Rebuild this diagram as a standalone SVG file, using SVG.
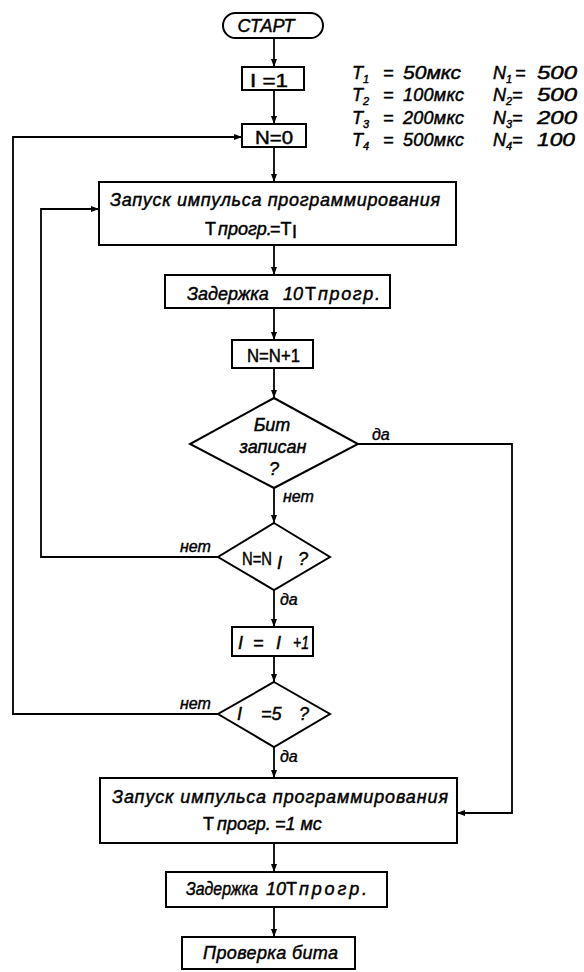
<svg xmlns="http://www.w3.org/2000/svg" width="584" height="972" viewBox="0 0 584 972">
<style>
.b{fill:#fff;stroke:#000;stroke-width:2}
.c{fill:none;stroke:#000;stroke-width:1.8}
.t{font-family:"Liberation Sans","DejaVu Sans",sans-serif;font-size:18px;fill:#000;stroke:#000;stroke-width:0.45}
.i{font-style:italic}
.u{font-style:normal}
.l{font-family:"Liberation Sans","DejaVu Sans",sans-serif;font-size:16px;font-style:italic;fill:#000;stroke:#000;stroke-width:0.4}
.s{font-size:11px}
</style>
<defs>
<marker id="a" markerUnits="userSpaceOnUse" markerWidth="9" markerHeight="7" refX="8" refY="3.5" orient="auto">
<path d="M0,0.5 L8,3.5 L0,6.5 z" fill="#000"/>
</marker>
</defs>
<rect width="584" height="972" fill="#fff"/>
<g id="connectors">
<path class="c" d="M274,38 V67" marker-end="url(#a)"/>
<path class="c" d="M274,90 V124" marker-end="url(#a)"/>
<path class="c" d="M274,147 V182" marker-end="url(#a)"/>
<path class="c" d="M274,245 V275" marker-end="url(#a)"/>
<path class="c" d="M274,308 V340" marker-end="url(#a)"/>
<path class="c" d="M274,368 V398" marker-end="url(#a)"/>
<path class="c" d="M274,488 V523" marker-end="url(#a)"/>
<path class="c" d="M274,590 V627" marker-end="url(#a)"/>
<path class="c" d="M274,656 V682" marker-end="url(#a)"/>
<path class="c" d="M274,747 V778" marker-end="url(#a)"/>
<path class="c" d="M274,843 V872" marker-end="url(#a)"/>
<path class="c" d="M274,907 V937" marker-end="url(#a)"/>
<path class="c" d="M358,444 H512 V813 H457" marker-end="url(#a)"/>
<path class="c" d="M218,557 H41 V209 H99" marker-end="url(#a)"/>
<path class="c" d="M218,714 H13 V137 H242" marker-end="url(#a)"/>
<text class="l" x="372" y="440">да</text>
<text class="l" x="283" y="502">нет</text>
<text class="l" x="180" y="552">нет</text>
<text class="l" x="280" y="605">да</text>
<text class="l" x="180" y="709">нет</text>
<text class="l" x="280" y="762">да</text>
</g>
<g id="params">
<text class="t i" y="79"><tspan x="352">T</tspan><tspan class="s" x="363" dy="4">1</tspan><tspan x="383" dy="-4">=</tspan><tspan x="403" textLength="58" lengthAdjust="spacingAndGlyphs">50мкс</tspan></text>
<text class="t i" y="101"><tspan x="352">T</tspan><tspan class="s" x="363" dy="4">2</tspan><tspan x="383" dy="-4">=</tspan><tspan x="403" textLength="61" lengthAdjust="spacing">100мкс</tspan></text>
<text class="t i" y="124"><tspan x="352">T</tspan><tspan class="s" x="363" dy="4">3</tspan><tspan x="383" dy="-4">=</tspan><tspan x="403" textLength="61" lengthAdjust="spacing">200мкс</tspan></text>
<text class="t i" y="146"><tspan x="352">T</tspan><tspan class="s" x="363" dy="4">4</tspan><tspan x="383" dy="-4">=</tspan><tspan x="403" textLength="61" lengthAdjust="spacing">500мкс</tspan></text>
<text class="t i" y="79"><tspan x="493">N</tspan><tspan class="s" x="506" dy="4">1</tspan><tspan x="515" dy="-4">=</tspan><tspan x="537" textLength="40" lengthAdjust="spacingAndGlyphs">500</tspan></text>
<text class="t i" y="101"><tspan x="493">N</tspan><tspan class="s" x="506" dy="4">2</tspan><tspan x="512" dy="-4">=</tspan><tspan x="537" textLength="40" lengthAdjust="spacingAndGlyphs">500</tspan></text>
<text class="t i" y="124"><tspan x="493">N</tspan><tspan class="s" x="506" dy="4">3</tspan><tspan x="512" dy="-4">=</tspan><tspan x="537" textLength="40" lengthAdjust="spacingAndGlyphs">200</tspan></text>
<text class="t i" y="146"><tspan x="493">N</tspan><tspan class="s" x="506" dy="4">4</tspan><tspan x="512" dy="-4">=</tspan><tspan x="537" textLength="38" lengthAdjust="spacingAndGlyphs">100</tspan></text>
</g>
<g id="start">
<rect class="b" x="223" y="13" width="100" height="25" rx="12.5"/>
<text class="t i" x="266" y="32" text-anchor="middle" font-size="17">СТАРТ</text>
</g>
<g id="i1">
<rect class="b" x="242" y="67" width="62" height="23"/>
<text class="t u" x="250" y="87" textLength="38" lengthAdjust="spacingAndGlyphs">I =1</text>
</g>
<g id="n0">
<rect class="b" x="242" y="124" width="64" height="23"/>
<text class="t u" x="255" y="144" textLength="38" lengthAdjust="spacingAndGlyphs">N=0</text>
</g>
<g id="pulse1">
<rect class="b" x="99" y="182" width="357" height="63"/>
<text class="t i" x="110" y="206" textLength="330" lengthAdjust="spacing">Запуск импульса программирования</text>
<text class="t u" x="205" y="235" font-size="21">T</text>
<text class="t i" x="218" y="235" font-size="17">прогр.</text>
<text class="t u" x="270" y="235" font-size="20">=T</text>
<text class="t u" x="292" y="238" font-size="13">I</text>
</g>
<g id="delay1">
<rect class="b" x="165" y="275" width="225" height="33"/>
<text class="t i" x="187" y="300" font-size="17">Задержка</text>
<text class="t i" x="283" y="300">10</text>
<text class="t u" x="305" y="300" font-size="21">T</text>
<text class="t i" x="318" y="300" font-size="19" textLength="62" lengthAdjust="spacing">прогр.</text>
</g>
<g id="ninc">
<rect class="b" x="232" y="340" width="81" height="28"/>
<text class="t u" x="247" y="362" font-size="20" textLength="53" lengthAdjust="spacingAndGlyphs">N=N+1</text>
</g>
<g id="d1">
<polygon class="b" points="274,398 358,444 274,488 190,444"/>
<text class="t i" x="272" y="431" text-anchor="middle" font-size="17">Бит</text>
<text class="t i" x="273" y="453" text-anchor="middle" font-size="17">записан</text>
<text class="t i" x="274" y="475" text-anchor="middle" font-size="18">?</text>
</g>
<g id="d2">
<polygon class="b" points="274,523 330,557 274,590 218,557"/>
<text class="t u" x="242" y="565" textLength="30" lengthAdjust="spacingAndGlyphs">N=N</text>
<text class="t i" x="277" y="569" font-size="13">I</text>
<text class="t i" x="298" y="565">?</text>
</g>
<g id="iinc">
<rect class="b" x="232" y="627" width="81" height="29"/>
<text class="t i" y="649" font-size="17"><tspan x="238">I</tspan><tspan x="253">=</tspan><tspan x="276">I</tspan><tspan x="293" textLength="16" lengthAdjust="spacingAndGlyphs">+1</tspan></text>
</g>
<g id="d3">
<polygon class="b" points="274,682 330,714 274,747 218,714"/>
<text class="t i" y="720"><tspan x="237">I</tspan><tspan x="261">=5</tspan><tspan x="299">?</tspan></text>
</g>
<g id="pulse2">
<rect class="b" x="100" y="778" width="357" height="65"/>
<text class="t i" x="112" y="803" textLength="336" lengthAdjust="spacing">Запуск импульса программирования</text>
<text class="t u" x="203" y="830" font-size="21">T</text>
<text class="t i" x="217" y="830" font-size="17">прогр.</text>
<text class="t i" x="275" y="830" font-size="17">=1 мс</text>
</g>
<g id="delay2">
<rect class="b" x="166" y="872" width="221" height="35"/>
<text class="t i" x="186" y="895" font-size="17" textLength="72" lengthAdjust="spacingAndGlyphs">Задержка</text>
<text class="t i" x="266" y="895" font-size="17">10</text>
<text class="t u" x="286" y="895" font-size="21">T</text>
<text class="t i" x="299" y="895" font-size="19" textLength="68" lengthAdjust="spacing">прогр.</text>
</g>
<g id="check">
<rect class="b" x="182" y="937" width="173" height="32"/>
<text class="t i" x="203" y="959" textLength="135" lengthAdjust="spacing">Проверка бита</text>
</g>
</svg>
